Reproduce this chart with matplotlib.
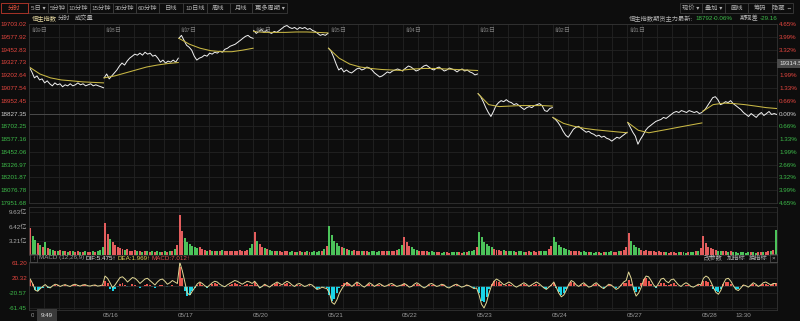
import numpy as np
import matplotlib
matplotlib.use("Agg")
from matplotlib import pyplot as plt
from matplotlib.patches import Rectangle
from matplotlib.transforms import Bbox

plt.rcParams['font.family'] = ['Liberation Sans', 'Noto Sans CJK SC', 'DejaVu Sans']

# ---------------- data ----------------
prev_close = 18827.35
day_tags = ["前9日", "前8日", "前7日", "前6日", "前5日", "前4日", "前3日", "前2日", "前1日", ""]
date_labels = ["05/15", "05/16", "05/17", "05/20", "05/21", "05/22", "05/23", "05/24", "05/27", "05/28"]

price_levels = [19703.02, 19577.92, 19452.83, 19327.73, 19202.64, 19077.54, 18952.45, 18827.35,
                18702.25, 18577.16, 18452.06, 18326.97, 18201.87, 18076.78, 17951.68]
pct_labels = ["4.65%", "3.99%", "3.32%", "2.66%", "1.99%", "1.33%", "0.66%", "0.00%",
              "0.66%", "1.33%", "1.99%", "2.66%", "3.32%", "3.99%", "4.65%"]
vol_ticks = [3.21, 6.42, 9.63]
macd_ticks = [61.20, 20.32, -20.57, -61.45]

# minute price, sampled 30 points per session
price_0515 = [19282, 19234, 19176, 19195, 19156, 19166, 19127, 19147, 19118, 19098, 19127, 19108, 19118, 19089, 19108,
              19098, 19118, 19098, 19108, 19127, 19108, 19118, 19098, 19108, 19118, 19098, 19108, 19098, 19089, 19079]
price_0516 = [19176, 19214, 19166, 19195, 19224, 19253, 19292, 19321, 19301, 19340, 19369, 19388, 19408, 19398, 19418,
              19398, 19427, 19408, 19418, 19388, 19398, 19369, 19330, 19350, 19321, 19340, 19330, 19350, 19330, 19369]
price_0517 = [19563, 19592, 19543, 19495, 19476, 19447, 19388, 19350, 19369, 19379, 19398, 19388, 19418, 19408, 19427,
              19418, 19437, 19427, 19456, 19466, 19485, 19495, 19505, 19524, 19543, 19563, 19582, 19592, 19572, 19563]
price_0520 = [19640, 19611, 19630, 19650, 19621, 19640, 19621, 19611, 19630, 19621, 19640, 19659, 19679, 19688, 19669,
              19659, 19669, 19650, 19669, 19659, 19669, 19650, 19659, 19640, 19630, 19611, 19592, 19601, 19592, 19611]
price_0521 = [19466, 19437, 19379, 19311, 19253, 19272, 19234, 19253, 19234, 19224, 19243, 19263, 19272, 19253, 19263,
              19282, 19272, 19253, 19224, 19205, 19185, 19195, 19214, 19234, 19224, 19243, 19253, 19263, 19253, 19243]
price_0522 = [19253, 19272, 19292, 19282, 19263, 19243, 19253, 19272, 19292, 19301, 19282, 19263, 19253, 19272, 19282,
              19263, 19243, 19253, 19272, 19263, 19253, 19234, 19253, 19263, 19243, 19253, 19234, 19224, 19205, 19214]
price_0523 = [19021, 18992, 18943, 18885, 18837, 18798, 18847, 18905, 18934, 18953, 18943, 18963, 18943, 18934, 18914,
              18924, 18905, 18885, 18866, 18885, 18895, 18885, 18905, 18914, 18924, 18905, 18856, 18847, 18876, 18885]
price_0524 = [18789, 18769, 18740, 18702, 18653, 18615, 18595, 18634, 18673, 18692, 18702, 18682, 18663, 18644, 18653,
              18634, 18624, 18605, 18615, 18595, 18605, 18585, 18576, 18557, 18576, 18595, 18585, 18605, 18624, 18644]
price_0527 = [18740, 18692, 18644, 18605, 18527, 18576, 18615, 18663, 18692, 18711, 18731, 18750, 18760, 18769, 18789,
              18779, 18798, 18818, 18837, 18847, 18837, 18856, 18847, 18837, 18856, 18847, 18837, 18847, 18827, 18837]
price_0528 = [18847, 18866, 18905, 18943, 18982, 18992, 18963, 18914, 18924, 18943, 18934, 18953, 18924, 18905, 18885,
              18866, 18837, 18818, 18798, 18827, 18808, 18789, 18818, 18837, 18808, 18827, 18847, 18818, 18827, 18818]
price_days = [price_0515, price_0516, price_0517, price_0520, price_0521,
              price_0522, price_0523, price_0524, price_0527, price_0528]

# average price line, 8 points per session
avg_days = [
    [19282, 19214, 19176, 19156, 19147, 19137, 19132, 19127],
    [19176, 19195, 19224, 19253, 19282, 19301, 19316, 19326],
    [19563, 19505, 19466, 19442, 19432, 19432, 19447, 19466],
    [19630, 19621, 19621, 19621, 19625, 19625, 19621, 19616],
    [19466, 19369, 19311, 19282, 19268, 19258, 19253, 19248],
    [19253, 19263, 19268, 19268, 19263, 19258, 19253, 19248],
    [19021, 18914, 18895, 18900, 18905, 18905, 18905, 18900],
    [18789, 18731, 18702, 18682, 18668, 18658, 18648, 18639],
    [18740, 18663, 18639, 18658, 18677, 18697, 18716, 18735],
    [18847, 18914, 18929, 18924, 18914, 18900, 18885, 18876],
]

# turnover in 亿, 30 bars per session
vol_days = [
    [6.1, 4.2, 3.3, 2.7, 2.2, 1.8, 3.0, 1.6, 1.3, 1.1, 1.0, 0.9, 1.1, 0.8, 0.9, 0.7, 0.8, 1.0, 0.7, 0.8, 0.6, 0.7, 0.9, 0.6, 0.7, 0.8, 0.6, 0.8, 1.1, 1.9],
    [7.2, 4.8, 3.6, 2.9, 2.3, 1.9, 1.6, 1.4, 1.2, 1.3, 1.0, 0.9, 1.1, 0.8, 0.9, 0.7, 0.8, 1.0, 0.7, 0.8, 0.7, 0.9, 0.7, 0.6, 0.8, 0.7, 0.9, 1.0, 1.3, 2.3],
    [9.0, 5.4, 3.9, 3.0, 2.5, 2.0, 1.7, 1.5, 1.8, 1.3, 1.1, 1.0, 1.2, 0.9, 1.0, 0.8, 0.9, 1.1, 0.8, 0.9, 0.8, 1.0, 0.8, 0.9, 1.1, 0.9, 1.0, 1.2, 1.5, 2.5],
    [5.2, 3.2, 2.4, 1.9, 1.6, 1.3, 1.1, 1.0, 0.9, 1.0, 0.8, 0.7, 0.9, 0.8, 0.7, 0.8, 0.6, 0.7, 0.9, 0.7, 0.6, 0.8, 0.7, 0.6, 0.8, 0.7, 0.8, 1.0, 1.3, 2.1],
    [6.5, 4.4, 3.2, 2.6, 2.1, 1.7, 1.5, 1.3, 1.2, 1.0, 1.1, 0.9, 0.8, 1.0, 0.8, 0.9, 0.7, 0.9, 0.8, 0.7, 0.9, 0.8, 1.0, 0.8, 0.9, 0.8, 1.0, 1.1, 1.4, 2.2],
    [4.1, 2.8, 2.1, 1.7, 1.4, 1.2, 1.0, 0.9, 1.0, 0.8, 0.7, 0.8, 0.6, 0.7, 0.6, 0.5, 0.7, 0.6, 0.5, 0.6, 0.7, 0.6, 0.7, 0.5, 0.6, 0.7, 0.8, 0.9, 1.2, 1.8],
    [5.2, 4.0, 3.0, 2.4, 2.0, 1.7, 1.4, 1.2, 1.1, 1.0, 1.1, 0.9, 0.8, 0.9, 0.8, 0.7, 0.8, 0.9, 0.7, 0.6, 0.8, 0.7, 0.9, 0.7, 0.8, 0.9, 0.8, 1.0, 1.3, 2.0],
    [4.1, 2.9, 2.2, 1.8, 1.5, 1.3, 1.1, 1.0, 0.9, 0.8, 0.9, 0.7, 0.8, 0.6, 0.7, 0.6, 0.5, 0.7, 0.6, 0.5, 0.6, 0.7, 0.6, 0.8, 0.6, 0.7, 0.8, 0.9, 1.1, 1.7],
    [5.0, 3.1, 2.3, 1.8, 1.5, 1.2, 1.0, 1.1, 0.9, 0.8, 0.9, 0.7, 0.8, 0.6, 0.7, 0.6, 0.5, 0.7, 0.6, 0.5, 0.6, 0.7, 0.6, 0.5, 0.7, 0.6, 0.7, 0.8, 1.0, 1.6],
    [4.3, 2.6, 1.9, 1.5, 1.3, 1.1, 1.0, 0.9, 0.8, 0.9, 0.7, 0.8, 0.6, 0.7, 0.5, 0.6, 0.7, 0.5, 0.6, 0.7, 0.6, 0.5, 0.7, 0.6, 0.7, 0.6, 0.8, 0.9, 1.2, 5.6],
]

# MACD(12,26,9): DIF line and histogram, 30 points per session
dif_days = [
    [18, 5, -12, -15, -8, -2, 3, -3, -6, 0, 4, 2, -2, 1, 3, 0, -2, 2, 4, 1, -1, 2, 3, 0, -1, 1, 2, -1, 0, 2],
    [26, 20, 8, -5, 2, 12, 22, 24, 18, 10, 16, 22, 20, 14, 6, 12, 18, 20, 14, 8, 2, 10, 16, 18, 12, 4, 8, 14, 10, 6],
    [63, 40, 10, -20, -25, -15, -5, 5, 10, 6, 0, -4, 2, 8, 12, 10, 4, 0, -3, 2, 6, 10, 14, 12, 8, 4, 8, 12, 10, 6],
    [12, 4, -6, -2, 4, 0, -4, 2, 6, 10, 6, 2, 8, 12, 8, 2, -2, 4, 6, 2, -2, 0, 4, 2, -4, -10, -8, -4, -6, -8],
    [-20, -45, -50, -38, -20, -8, 2, 8, 4, -2, 4, 10, 6, 0, -4, 2, 8, 4, -2, 2, 6, 2, -2, 0, 4, 6, 2, -2, 0, 2],
    [6, 2, -4, -2, 4, 8, 4, -2, -6, -2, 4, 6, 2, -2, 0, 4, 2, -4, -6, -2, 2, 4, 0, -4, -2, 2, 0, -4, -8, -6],
    [-25, -50, -60, -45, -20, 0, 12, 18, 14, 8, 2, 6, 10, 6, 0, -4, 0, 4, 8, 4, -2, 2, 6, 10, 6, 0, -6, -10, -4, 2],
    [10, -5, -20, -30, -25, -12, 4, 14, 10, 2, -2, 4, 8, 2, -4, -2, 4, 8, 2, -4, -8, -2, 4, 2, -4, -10, -6, 2, 10, 14],
    [37, 20, -10, -28, -20, -5, 15, 26, 24, 14, 2, -4, 6, 18, 20, 12, 8, 16, 18, 10, 2, -2, 4, 8, 4, -2, -4, 0, 4, 2],
    [20, 26, 22, 10, -5, -18, -23, -12, 6, 18, 20, 12, 0, -10, -13, -6, 2, 0, -4, 2, 8, 4, -2, 2, 8, 10, 6, 2, 6, 5.5],
]
hist_days = [
    [16, 4, -12, -14, -10, -6, -2, -5, -6, -2, 2, 1, -2, 0, 2, -1, -2, 1, 3, 1, -1, 1, 2, -1, -1, 0, 1, -1, 0, 1],
    [14, 6, -8, -14, -10, -4, 4, 6, 2, -4, 0, 4, 3, -1, -6, -2, 2, 4, 1, -3, -7, -2, 2, 3, 0, -4, -1, 2, 0, -2],
    [50, 20, -15, -28, -24, -14, -6, 2, 6, 3, -2, -5, 0, 4, 6, 4, 0, -3, -4, -1, 2, 4, 6, 4, 2, 0, 2, 4, 3, 1],
    [10, 2, -6, -3, 2, -1, -4, 1, 4, 6, 3, 0, 4, 6, 3, -1, -3, 2, 3, 0, -3, -1, 2, 0, -4, -8, -6, -3, -4, -5],
    [-25, -40, -35, -20, -6, 2, 8, 10, 5, 0, 3, 6, 3, -1, -3, 1, 4, 2, -2, 1, 3, 1, -2, 0, 2, 3, 1, -1, 0, 1],
    [4, 1, -3, -2, 2, 4, 2, -1, -4, -2, 2, 3, 1, -1, 0, 2, 1, -3, -4, -2, 1, 2, 0, -3, -2, 1, 0, -3, -5, -4],
    [-20, -40, -45, -30, -10, 4, 12, 14, 10, 4, 0, 3, 5, 2, -2, -4, -1, 2, 4, 2, -2, 1, 3, 5, 2, -2, -6, -8, -3, 1],
    [8, -6, -18, -25, -20, -8, 4, 10, 6, 0, -2, 2, 4, 1, -3, -2, 2, 4, 1, -3, -5, -1, 2, 1, -3, -6, -3, 2, 6, 8],
    [15, 5, -12, -18, -10, 6, 18, 20, 12, 4, -3, -6, 2, 8, 8, 3, 1, 5, 6, 2, -2, -4, 0, 3, 1, -2, -3, 0, 2, 1],
    [12, 14, 10, 2, -8, -15, -16, -8, 4, 10, 10, 5, -2, -8, -9, -4, 1, 0, -3, 1, 5, 2, -2, 1, 4, 5, 3, 1, 4, 7],
]

toolbar_left = ["分时", "5日 ▾", "5分钟", "10分钟", "15分钟", "30分钟", "60分钟",
                "日线", "10日线", "周线", "月线", "更多周期 ▾"]
toolbar_right = ["现价 ▾", "叠加 ▾", "画线", "筹码", "隐藏 ⇔"]

# ---------------- styling / layout ----------------
W, H = 800, 321
BG = "#0d0d0d"
GRID = "#232323"
RED = "#e5463f"
GREEN = "#3dbb4a"
GRAY = "#b4b4b4"
FS = 4.5

fig = plt.figure(figsize=(W / 100, H / 100), dpi=100, facecolor=BG)


def fx(x):
    return x / W


def fy(y):
    return 1 - y / H


def axes_px(x0, y0, x1, y1):
    ax = fig.add_axes([fx(x0), fy(y1), (x1 - x0) / W, (y1 - y0) / H])
    ax.set_facecolor(BG)
    for s in ax.spines.values():
        s.set_color("#333333")
        s.set_linewidth(0.6)
    ax.set_xlim(0, 10)
    ax.set_xticks(np.arange(0, 10.001, 0.2))
    ax.tick_params(axis="x", length=0, labelbottom=False)
    ax.tick_params(axis="y", length=0, pad=1.5, labelsize=FS)
    ax.grid(True, color=GRID, linewidth=0.6)
    ax.set_axisbelow(True)
    return ax


n_days = len(price_days)

# ---- price panel
ax_p = axes_px(29, 24, 777, 203)
ax_p.set_ylim(price_levels[-1], price_levels[0])
ax_p.set_yticks(price_levels)
ax_p.set_yticklabels([f"{v:.2f}" for v in price_levels])
for lbl, v in zip(ax_p.get_yticklabels(), price_levels):
    lbl.set_color(RED if v > prev_close + 1 else (GREEN if v < prev_close - 1 else "#d0d0d0"))
ax_p.axhline(prev_close, color="#4a4a4a", linewidth=0.7)

for d in range(n_days):
    xs = d + np.linspace(0.004, 0.996, len(price_days[d]))
    ax_p.plot(xs, price_days[d], color="#f2f2f2", linewidth=0.7)
    xa = d + np.linspace(0.004, 0.996, len(avg_days[d]))
    ax_p.plot(xa, avg_days[d], color="#c9b845", linewidth=0.75)
    if day_tags[d]:
        ax_p.text(d + 0.03, 19640, day_tags[d], color="#7a7a7a", fontsize=FS, va="center", ha="left")

ax_r = ax_p.twinx()
ax_r.set_ylim(price_levels[-1], price_levels[0])
ax_r.set_yticks(price_levels)
ax_r.set_yticklabels(pct_labels)
ax_r.tick_params(axis="y", length=0, pad=1.5, labelsize=FS)
for s in ax_r.spines.values():
    s.set_visible(False)
for lbl, v in zip(ax_r.get_yticklabels(), price_levels):
    lbl.set_color(RED if v > prev_close + 1 else (GREEN if v < prev_close - 1 else "#d0d0d0"))

# crosshair price tag sitting over the right axis (covers the 2.66% label like the screenshot)
ax_r.text(1.003, 19314.5, "19314.5", transform=ax_r.get_yaxis_transform(), color="#e6e6e6",
          fontsize=FS, ha="left", va="center", zorder=10, clip_on=False,
          bbox=dict(boxstyle="square,pad=0.35", facecolor="#4a4a4a", edgecolor="none"))

# ---- volume panel
ax_v = axes_px(29, 207, 777, 255)
ax_v.set_ylim(0, 10.75)
ax_v.set_yticks(vol_ticks)
ax_v.set_yticklabels([f"{v:.2f}亿" for v in vol_ticks])
for lbl in ax_v.get_yticklabels():
    lbl.set_color("#a8a8a8")
last = prev_close
for d in range(n_days):
    vols = vol_days[d]
    prices = price_days[d]
    n = len(vols)
    xs = d + (np.arange(n) + 0.5) / n
    cols = []
    for i in range(n):
        ref = prices[i - 1] if i > 0 else last
        cols.append("#e35d5d" if prices[i] >= ref else "#4cc35a")
    last = prices[-1]
    ax_v.bar(xs, vols, width=0.8 / n, color=cols, linewidth=0)

# ---- MACD panel
ax_m = axes_px(29, 262, 777, 310)
ax_m.set_ylim(-65.5, 63.9)
ax_m.set_yticks(macd_ticks)
ax_m.set_yticklabels([f"{v:.2f}" for v in macd_ticks])
for lbl, v in zip(ax_m.get_yticklabels(), macd_ticks):
    lbl.set_color(RED if v > 0 else GREEN)
ax_m.axhline(0, color="#2e2e2e", linewidth=0.6)
dif_x, dif_y = [], []
for d in range(n_days):
    h = hist_days[d]
    n = len(h)
    xs = d + (np.arange(n) + 0.5) / n
    ax_m.bar(xs, h, width=0.8 / n, color=["#e8574f" if v >= 0 else "#19d3e6" for v in h], linewidth=0)
    dif_x.extend(xs)
    dif_y.extend(dif_days[d])
ax_m.plot(dif_x, dif_y, color="#e2d896", linewidth=0.7)

# ---- bottom date labels
day_w = 748 / n_days
for d, lab in enumerate(date_labels):
    cx = 29 + d * day_w + 7
    if d == 0:
        cx = 39
    t = fig.text(fx(cx), fy(315.5), lab, color="#9a9a9a", fontsize=FS, ha="center", va="center")
    if d == 0:
        # the first date sits under the crosshair time tag; only its first digit shows
        t.set_clip_box(Bbox.from_extents(0, 0, 34, H))
        t.set_clip_on(True)
t1330 = (150 + 30) / 330
fig.text(fx(29 + 9 * day_w + t1330 * day_w), fy(315.5), "13:30", color="#9a9a9a", fontsize=FS,
         ha="center", va="center")
fig.text(fx(47), fy(315.5), "9:49", color="#e0e0e0", fontsize=FS, ha="center", va="center",
         bbox=dict(boxstyle="square,pad=0.6", facecolor="#3a3a3a", edgecolor="none"))

# ---- toolbar
edges_left = [1, 28, 48, 67, 90, 113, 136, 159, 183, 207, 230, 252, 287]
for i, lab in enumerate(toolbar_left):
    x0, x1 = edges_left[i], edges_left[i + 1]
    active = i == 0
    fig.patches.append(Rectangle((fx(x0), fy(13)), (x1 - x0) / W, 10 / H, transform=fig.transFigure,
                                 facecolor="none", edgecolor="#c0392b" if active else "#3a3a3a",
                                 linewidth=0.6, zorder=3 if active else 2))
    fig.text(fx((x0 + x1) / 2), fy(8), lab, color="#e0533f" if active else GRAY,
             fontsize=FS, ha="center", va="center")

edges_right = [680, 702, 725, 748, 772, 793]
for i, lab in enumerate(toolbar_right):
    x0, x1 = edges_right[i], edges_right[i + 1]
    fig.patches.append(Rectangle((fx(x0), fy(13)), (x1 - x0) / W, 10 / H, transform=fig.transFigure,
                                 facecolor="none", edgecolor="#3a3a3a", linewidth=0.6))
    fig.text(fx((x0 + x1) / 2), fy(8), lab, color=GRAY, fontsize=FS, ha="center", va="center")

# ---- second header row
fig.text(fx(32), fy(18.5), "恒生指数", color="#e6d9a2", fontsize=FS, ha="left", va="center")
fig.text(fx(58), fy(18.5), "分时", color=GRAY, fontsize=FS, ha="left", va="center")
fig.text(fx(75), fy(18.5), "成交量", color=GRAY, fontsize=FS, ha="left", va="center")

fig.text(fx(693), fy(18.5), "恒生指数期货主力最新:", color=GRAY, fontsize=FS, ha="right", va="center")
fig.text(fx(695), fy(18.5), "18792", color=GREEN, fontsize=FS, ha="left", va="center")
fig.text(fx(713), fy(18.5), "-0.06%", color=GREEN, fontsize=FS, ha="left", va="center")
fig.text(fx(740), fy(18.5), "期现差", color=GRAY, fontsize=FS, ha="left", va="center")
fig.text(fx(760), fy(18.5), "-29.16", color=GREEN, fontsize=FS, ha="left", va="center")

# ---- MACD header row
fig.patches.append(Rectangle((fx(30), fy(262)), 7 / W, 8 / H, transform=fig.transFigure,
                             facecolor="none", edgecolor="#555555", linewidth=0.5))
fig.text(fx(33.5), fy(258), "↑", color=GRAY, fontsize=FS - 0.5, ha="center", va="center")
fig.text(fx(39), fy(258), "MACD (12,26,9)", color="#9a9a9a", fontsize=FS, ha="left", va="center")
fig.text(fx(85), fy(258), "DIF:5.475↑", color="#f0f0f0", fontsize=FS, ha="left", va="center")
fig.text(fx(118), fy(258), "DEA:1.969↑", color="#e8d858", fontsize=FS, ha="left", va="center")
fig.text(fx(152), fy(258), "MACD:7.012↑", color="#e05050", fontsize=FS, ha="left", va="center")

fig.text(fx(704), fy(258), "改参数", color=GRAY, fontsize=FS, ha="left", va="center")
fig.text(fx(727), fy(258), "加指标", color=GRAY, fontsize=FS, ha="left", va="center")
fig.text(fx(749), fy(258), "换指标", color=GRAY, fontsize=FS, ha="left", va="center")
fig.patches.append(Rectangle((fx(770), fy(262)), 7 / W, 8 / H, transform=fig.transFigure,
                             facecolor="none", edgecolor="#555555", linewidth=0.5))
fig.text(fx(773.5), fy(258), "×", color=GRAY, fontsize=FS, ha="center", va="center")

fig.savefig("out.png", dpi=100, facecolor=BG)
